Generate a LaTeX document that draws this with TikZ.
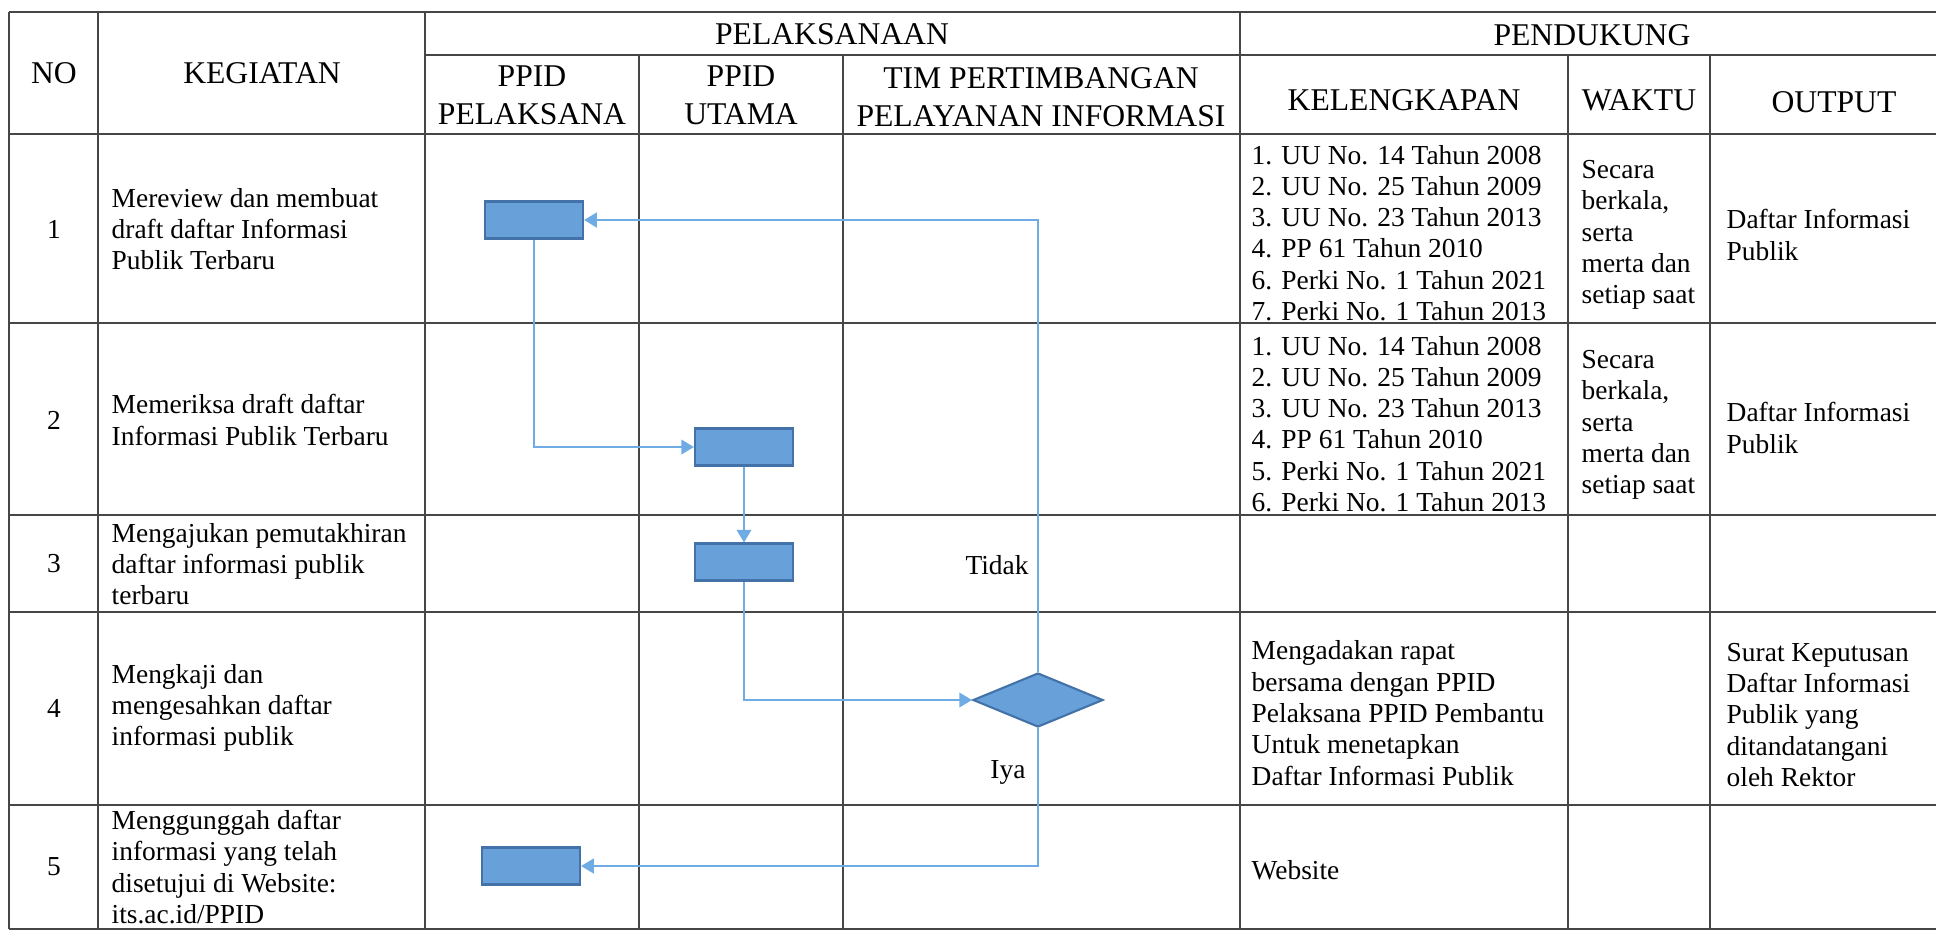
\documentclass[tikz,border=0pt]{standalone}
\usepackage{fontspec}
\setmainfont{Liberation Serif}
\usetikzlibrary{shapes.geometric,arrows.meta}

\definecolor{kotak}{RGB}{104,160,218}
\definecolor{tepi}{RGB}{66,114,168}
\definecolor{garis}{RGB}{112,172,228}
\definecolor{tabel}{RGB}{70,70,70}
\newcommand{\isi}{\fontsize{7.8}{8.9}\selectfont}
\newcommand{\judul}{\fontsize{9}{10.8}\selectfont}

\begin{document}
\begin{tikzpicture}[x=0.01cm, y=-0.01cm, every node/.style={font=\isi, inner sep=0pt},
    blok/.style={draw=tepi, fill=kotak, line width=0.6pt, minimum width=0.98cm, minimum height=0.37cm},
    keputusan/.style={diamond, draw=tepi, fill=kotak, line width=0.6pt, aspect=2.4, minimum width=1.3cm, minimum height=0.54cm},
    panah/.style={draw=garis, line width=0.45pt, -{Triangle[length=3.6pt,width=4.2pt]}},
    teks/.style={anchor=west, align=left},
    kepala/.style={font=\judul, align=center}]
    \useasboundingbox (0,0) rectangle (1936,932);

    % Линии таблицы
    \draw[tabel, line width=0.6pt] (9,12) -- (1936,12);
    \draw[tabel, line width=0.6pt] (425,55) -- (1936,55);
    \draw[tabel, line width=0.6pt] (9,134) -- (1936,134);
    \draw[tabel, line width=0.6pt] (9,323) -- (1936,323);
    \draw[tabel, line width=0.6pt] (9,515) -- (1936,515);
    \draw[tabel, line width=0.6pt] (9,612) -- (1936,612);
    \draw[tabel, line width=0.6pt] (9,805) -- (1936,805);
    \draw[tabel, line width=0.6pt] (9,929) -- (1936,929);
    \draw[tabel, line width=0.6pt] (9,12) -- (9,929);
    \draw[tabel, line width=0.6pt] (98,12) -- (98,929);
    \draw[tabel, line width=0.6pt] (425,12) -- (425,929);
    \draw[tabel, line width=0.6pt] (639,55) -- (639,929);
    \draw[tabel, line width=0.6pt] (843,55) -- (843,929);
    \draw[tabel, line width=0.6pt] (1240,12) -- (1240,929);
    \draw[tabel, line width=0.6pt] (1568,55) -- (1568,929);
    \draw[tabel, line width=0.6pt] (1710,55) -- (1710,929);

    % Заголовок
    \node[kepala] (hno) at (54,73) {NO};
    \node[kepala] (hkeg) at (262,73) {KEGIATAN};
    \node[kepala] (hpel) at (832,34) {PELAKSANAAN};
    \node[kepala] (hpen) at (1592,35) {PENDUKUNG};
    \node[kepala] (hppl) at (532,95) {PPID\\PELAKSANA};
    \node[kepala] (hppu) at (741,95) {PPID\\UTAMA};
    \node[kepala] (htim) at (1041,97) {TIM PERTIMBANGAN\\PELAYANAN INFORMASI};
    \node[kepala] (hkel) at (1404,100) {KELENGKAPAN};
    \node[kepala] (hwkt) at (1639,100) {WAKTU};
    \node[kepala] (hout) at (1834,102) {OUTPUT};

    % Строка 1
    \node (no1) at (54,229) {1};
    \node[teks] (keg1) at (111,229) {Mereview dan membuat\\draft daftar Informasi\\Publik Terbaru};
    \node[teks] (kel1) at (1251,233) {1. UU No. 14 Tahun 2008\\2. UU No. 25 Tahun 2009\\3. UU No. 23 Tahun 2013\\4. PP 61 Tahun 2010\\6. Perki No. 1 Tahun 2021\\7. Perki No. 1 Tahun 2013};
    \node[teks] (wkt1) at (1581,235) {Secara\\berkala,\\serta\\merta dan\\setiap saat};
    \node[teks] (out1) at (1726,235) {Daftar Informasi\\Publik};

    % Строка 2
    \node (no2) at (54,420) {2};
    \node[teks] (keg2) at (111,420) {Memeriksa draft daftar\\Informasi Publik Terbaru};
    \node[teks] (kel2) at (1251,424) {1. UU No. 14 Tahun 2008\\2. UU No. 25 Tahun 2009\\3. UU No. 23 Tahun 2013\\4. PP 61 Tahun 2010\\5. Perki No. 1 Tahun 2021\\6. Perki No. 1 Tahun 2013};
    \node[teks] (wkt2) at (1581,425) {Secara\\berkala,\\serta\\merta dan\\setiap saat};
    \node[teks] (out2) at (1726,428) {Daftar Informasi\\Publik};

    % Строка 3
    \node (no3) at (54,564) {3};
    \node[teks] (keg3) at (111,564) {Mengajukan pemutakhiran\\daftar informasi publik\\terbaru};

    % Строка 4
    \node (no4) at (54,708) {4};
    \node[teks] (keg4) at (111,708) {Mengkaji dan\\mengesahkan daftar\\informasi publik};
    \node[teks] (kel4) at (1251,713) {Mengadakan rapat\\bersama dengan PPID\\Pelaksana PPID Pembantu\\Untuk menetapkan\\Daftar Informasi Publik};
    \node[teks] (out4) at (1726,715) {Surat Keputusan\\Daftar Informasi\\Publik yang\\ditandatangani\\oleh Rektor};

    % Строка 5
    \node (no5) at (54,867) {5};
    \node[teks] (keg5) at (111,867) {Menggunggah daftar\\informasi yang telah\\disetujui di Website:\\its.ac.id/PPID};
    \node[teks] (kel5) at (1251,870) {Website};

    % Блоки схемы
    \node[blok] (b1) at (534,220) {};
    \node[blok] (b2) at (744,447) {};
    \node[blok] (b3) at (744,562) {};
    \node[keputusan] (d4) at (1038,700) {};
    \node[blok] (b5) at (531,866) {};

    % Стрелки
    \draw[panah] (b1.south) |- (b2.west);
    \draw[panah] (b2.south) -- (b3.north);
    \draw[panah] (b3.south) |- (d4.west);
    \draw[panah] (d4.north) |- (b1.east);
    \draw[panah] (d4.south) |- (b5.east);
    \node (tidak) at (997,565) {Tidak};
    \node (iya) at (1008,772) {Iya};
\end{tikzpicture}
\end{document}
